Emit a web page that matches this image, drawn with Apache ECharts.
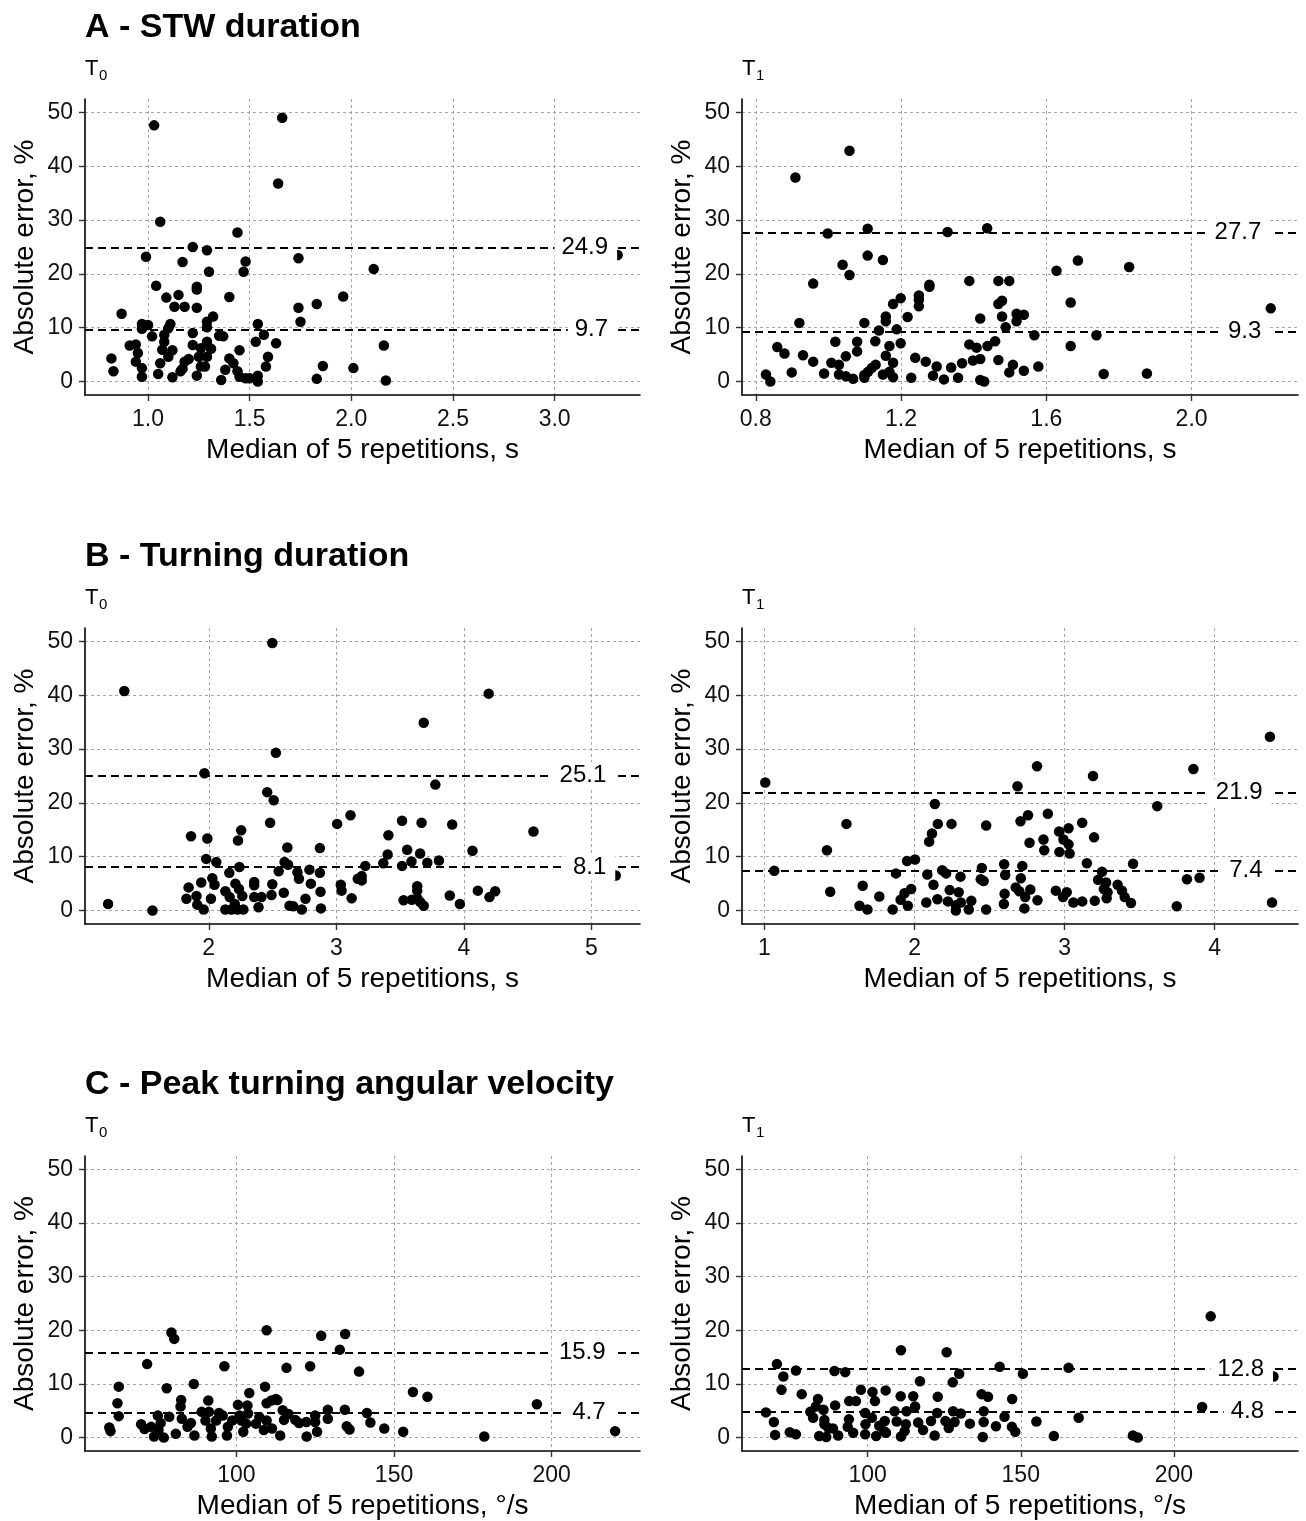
<!DOCTYPE html>
<html>
<head>
<meta charset="utf-8">
<title>Absolute error vs median of 5 repetitions</title>
<script src="https://cdn.jsdelivr.net/npm/echarts@6/dist/echarts.min.js"></script>
<style>
html, body { margin: 0; padding: 0; background: #fff; }
#chart { width: 1306px; height: 1521px; }
</style>
</head>
<body>
<div id="chart"></div>
<script>
// ---- data: [median of 5 repetitions, absolute error %] ----
const stwT0 = [[1.03,47.6],[1.66,49.0],[1.64,36.8],[1.06,29.7],[1.44,27.7],[1.22,25.0],[1.29,24.4],[0.99,23.2],[1.17,22.2],[1.48,22.3],[1.30,20.4],[1.47,20.4],[1.74,22.9],[2.11,20.9],[1.04,17.8],[1.24,17.6],[1.24,17.1],[1.09,15.6],[1.15,16.1],[1.13,13.9],[1.18,13.9],[1.24,13.7],[1.40,15.7],[1.96,15.8],[1.74,13.7],[1.83,14.4],[1.75,11.1],[0.87,12.6],[0.97,10.7],[1.00,10.5],[0.97,9.8],[1.11,10.7],[1.10,9.9],[1.29,11.1],[1.32,12.1],[1.29,10.1],[1.02,8.4],[1.08,8.7],[1.08,7.4],[1.22,9.0],[1.35,8.5],[1.37,8.4],[1.54,10.7],[1.57,8.7],[1.53,7.4],[1.63,7.1],[0.91,6.7],[0.94,6.9],[0.95,5.3],[1.07,5.9],[1.12,5.8],[1.22,6.8],[1.26,6.2],[1.29,7.4],[1.31,6.1],[1.10,4.6],[0.82,4.3],[0.94,3.7],[1.06,3.4],[1.18,3.7],[1.20,4.2],[1.25,4.6],[1.29,4.6],[1.40,4.3],[1.45,5.8],[1.42,3.4],[1.59,4.6],[1.58,2.8],[0.83,1.9],[0.97,2.5],[0.97,0.9],[1.05,1.4],[1.12,0.8],[1.16,1.9],[1.17,2.4],[1.24,1.1],[1.26,2.8],[1.28,2.8],[1.36,0.3],[1.38,2.2],[1.44,1.9],[1.45,0.9],[1.48,0.6],[1.50,0.6],[1.54,1.1],[1.54,0.0],[1.83,0.5],[1.86,2.9],[2.01,2.5],[2.16,6.7],[2.17,0.2],[3.31,23.5]];
const stwT1 = [[1.058,42.9],[0.909,37.9],[0.998,27.5],[1.108,28.4],[1.328,27.8],[1.437,28.5],[1.108,23.4],[1.150,22.6],[1.039,21.7],[1.058,19.8],[0.958,18.2],[1.628,20.6],[1.687,22.5],[1.828,21.3],[1.388,18.7],[1.468,18.7],[1.498,18.7],[1.278,18.0],[1.278,17.6],[1.249,16.0],[1.249,15.2],[1.249,14.0],[1.199,15.5],[1.178,14.4],[1.478,15.0],[1.468,14.4],[1.667,14.7],[2.218,13.6],[0.920,10.9],[1.099,10.9],[1.158,12.1],[1.158,11.2],[1.218,12.0],[1.418,11.7],[1.478,12.1],[1.518,12.6],[1.538,12.4],[1.518,11.2],[1.488,10.1],[1.139,9.5],[1.188,9.7],[1.567,8.6],[1.738,8.6],[0.859,6.4],[0.879,5.2],[1.019,7.4],[1.079,7.4],[1.079,5.6],[1.129,7.5],[1.168,6.6],[1.199,7.1],[1.388,6.9],[1.408,6.3],[1.438,6.6],[1.459,7.5],[1.667,6.6],[0.930,4.9],[0.958,3.7],[1.048,4.7],[1.158,4.8],[1.239,4.4],[1.008,3.5],[1.029,3.1],[1.178,3.5],[1.268,3.7],[1.298,2.8],[1.338,2.6],[1.368,3.4],[1.398,3.9],[1.418,4.2],[1.468,4.0],[1.508,3.1],[1.578,2.8],[0.828,1.3],[0.840,0.0],[0.899,1.7],[0.988,1.5],[1.029,1.3],[1.048,1.0],[1.068,0.5],[1.099,1.2],[1.109,1.8],[1.119,2.5],[1.130,3.1],[1.099,0.7],[1.150,1.3],[1.168,1.8],[1.178,0.8],[1.228,0.7],[1.288,1.1],[1.318,0.4],[1.357,0.7],[1.418,0.3],[1.429,0.0],[1.498,1.7],[1.538,2.0],[1.758,1.4],[1.877,1.5]];
const turnT0 = [[1.338,40.8],[2.498,49.7],[4.194,40.3],[3.685,34.9],[2.526,29.3],[1.966,25.5],[3.776,23.4],[2.458,22.0],[2.509,20.5],[2.481,16.3],[3.006,16.1],[3.111,17.7],[3.515,16.7],[3.668,16.3],[3.908,16.0],[4.545,14.7],[1.861,13.8],[1.989,13.4],[2.254,14.9],[2.229,13.0],[3.408,14.0],[2.616,11.7],[2.871,11.6],[3.555,11.3],[3.402,10.4],[3.657,10.6],[4.067,11.1],[1.980,9.6],[2.059,9.0],[2.594,9.0],[2.622,8.5],[2.240,8.1],[2.161,7.0],[2.548,7.3],[2.695,7.1],[2.789,7.6],[2.871,7.0],[2.707,5.9],[3.227,8.3],[3.368,8.8],[3.515,8.3],[3.589,9.1],[3.713,8.9],[3.804,9.3],[3.168,5.9],[3.199,6.4],[3.199,5.6],[1.941,5.2],[2.028,6.0],[2.045,4.8],[1.842,4.3],[2.209,5.0],[2.237,4.0],[2.356,5.3],[2.356,4.7],[2.498,4.9],[2.800,5.0],[3.035,4.8],[3.041,3.7],[2.130,3.6],[2.588,3.3],[2.876,3.5],[3.634,4.5],[3.634,3.7],[4.109,3.7],[4.245,3.6],[4.200,2.5],[3.889,2.8],[1.825,2.2],[1.904,2.7],[2.017,2.2],[2.164,2.5],[2.263,2.7],[2.356,2.5],[2.413,2.5],[2.492,2.9],[2.758,2.2],[3.120,2.3],[3.527,1.9],[3.592,2.0],[3.634,2.3],[3.657,1.6],[3.685,0.9],[3.968,1.2],[1.211,1.2],[1.559,0.0],[1.910,1.1],[1.960,0.2],[2.130,0.2],[2.178,0.2],[2.226,0.2],[2.271,0.2],[2.204,1.2],[2.390,0.6],[2.633,0.9],[2.662,0.8],[2.729,0.2],[2.879,0.4],[5.19,6.5]];
const turnT1 = [[4.368,32.3],[3.858,26.3],[2.816,26.8],[3.189,25.0],[2.686,23.1],[1.005,23.8],[3.617,19.4],[2.135,19.8],[1.546,16.1],[2.155,16.1],[2.246,16.1],[2.477,15.8],[2.756,17.7],[2.706,16.6],[2.888,18.0],[3.117,16.3],[3.026,15.3],[2.963,14.7],[2.116,14.3],[2.097,12.8],[2.859,13.2],[2.766,12.6],[2.864,11.2],[2.992,13.2],[3.026,12.3],[2.965,10.9],[3.033,10.6],[3.196,13.6],[1.416,11.2],[1.950,9.2],[2.003,9.5],[3.148,8.8],[3.456,8.7],[1.065,7.4],[1.876,6.9],[2.085,6.7],[2.184,7.5],[2.210,6.9],[2.306,6.3],[2.448,7.9],[2.441,5.8],[2.460,5.5],[2.597,8.6],[2.718,8.3],[2.604,6.6],[2.708,6.0],[3.249,7.2],[3.223,5.7],[3.276,5.2],[3.815,5.8],[3.899,6.1],[1.654,4.6],[2.126,4.8],[2.234,3.8],[2.294,3.4],[2.674,4.3],[2.698,3.6],[2.771,3.9],[2.600,3.1],[2.941,3.7],[3.014,3.4],[3.353,4.8],[3.382,3.7],[3.286,3.4],[3.261,4.0],[1.977,4.0],[1.933,3.2],[1.438,3.5],[1.765,2.6],[1.907,2.0],[1.955,0.9],[2.078,1.5],[2.152,2.1],[2.222,1.7],[2.275,1.0],[2.308,1.5],[2.378,1.8],[2.361,0.2],[2.275,0.0],[2.477,0.2],[2.595,1.2],[2.732,0.4],[2.737,2.5],[2.819,1.9],[2.989,2.5],[3.058,1.5],[3.117,1.7],[3.201,1.8],[3.280,2.3],[3.400,2.5],[3.442,1.4],[3.747,0.8],[4.382,1.5],[1.633,0.9],[1.686,0.2],[1.854,0.2]];
const pavT0 = [[59.7,1.9],[60.1,1.2],[62.7,9.5],[62.3,6.4],[62.7,4.0],[71.7,13.7],[79.4,19.6],[80.3,18.4],[77.9,9.2],[96.2,13.3],[86.5,10.0],[82.5,7.0],[82.3,5.8],[69.8,2.5],[70.9,1.6],[73.0,2.0],[73.9,0.2],[75.1,4.1],[76.0,2.7],[77.0,0.0],[78.7,3.9],[80.8,0.7],[82.7,3.5],[85.6,2.7],[86.7,0.4],[89.0,4.8],[91.1,6.9],[91.3,4.8],[91.9,1.7],[92.2,0.2],[94.5,4.6],[95.7,4.1],[97.0,0.4],[97.3,2.0],[100.5,6.1],[101.0,4.1],[102.2,1.1],[103.1,2.6],[103.7,4.5],[104.1,8.3],[103.5,6.0],[106.2,2.6],[108.7,1.4],[109.1,9.5],[109.6,20.0],[109.6,6.4],[109.6,3.2],[111.3,1.7],[113.0,7.0],[113.9,0.4],[114.7,5.1],[115.1,3.3],[115.9,13.0],[118.7,3.3],[119.9,2.7],[122.2,2.9],[122.3,0.2],[123.4,13.3],[125.0,4.1],[125.6,1.1],[126.9,19.0],[129.0,5.2],[129.0,3.5],[132.8,16.4],[134.5,19.3],[134.4,5.2],[135.0,2.1],[135.9,1.5],[138.9,12.3],[141.4,4.6],[142.5,2.8],[146.9,1.7],[152.9,1.1],[156.0,8.5],[160.6,7.6],[178.6,0.2],[195.3,6.2],[220.1,1.2],[111.1,6.9],[112.5,7.2],[90.2,3.2],[98.7,3.2],[107.3,3.8],[101.6,3.2],[116.5,4.4],[125.0,2.9],[93.6,3.2],[84.5,2.0],[75.3,1.4]];
const pavT1 = [[212.0,22.6],[110.9,16.3],[125.8,15.9],[70.4,13.7],[76.6,12.5],[89.2,12.4],[92.7,12.2],[72.5,11.4],[143.1,13.2],[165.6,13.0],[150.7,11.9],[129.9,11.9],[127.8,10.3],[117.1,10.5],[232.5,11.4],[71.9,8.9],[78.5,8.1],[83.8,7.2],[97.8,8.9],[101.6,8.5],[105.9,8.8],[110.8,7.7],[114.9,7.7],[122.9,7.6],[137.2,8.1],[139.3,7.6],[147.2,7.2],[94.0,6.8],[96.2,6.8],[89.4,6.0],[83.1,5.8],[102.4,6.8],[115.5,5.8],[66.8,4.7],[81.3,4.8],[85.6,5.2],[99.2,4.6],[108.8,4.9],[112.7,4.9],[122.7,4.6],[127.9,4.9],[130.4,4.5],[137.9,4.9],[209.2,5.7],[82.2,3.7],[85.9,3.3],[93.9,3.4],[101.4,3.7],[105.6,3.1],[144.7,3.9],[168.9,3.7],[69.4,2.9],[85.9,2.5],[88.7,1.7],[93.5,2.0],[99.3,2.5],[103.8,2.2],[105.4,1.2],[109.5,3.0],[112.5,2.5],[116.5,2.8],[120.7,3.1],[125.4,3.1],[126.5,1.8],[128.4,2.9],[133.4,2.6],[137.9,2.9],[141.9,2.1],[155.1,3.0],[147.1,2.0],[148.2,1.1],[69.8,0.5],[74.6,1.0],[76.6,0.6],[84.2,0.3],[86.5,0.1],[90.4,0.4],[95.3,0.9],[99.2,0.6],[102.8,0.3],[106.0,0.9],[110.9,0.2],[112.1,1.2],[118.1,1.4],[121.9,0.4],[137.6,0.1],[160.8,0.3],[186.6,0.4],[188.2,0.0],[87.2,1.8]];

// dashed reference lines (upper, lower)
const stwT0Lines = [24.9, 9.7];
const stwT1Lines = [27.7, 9.3];
const turnT0Lines = [25.1, 8.1];
const turnT1Lines = [21.9, 7.4];
const pavT0Lines = [15.9, 4.7];
const pavT1Lines = [12.8, 4.8];

// tick labels
const yTicks = [0, 10, 20, 30, 40, 50];
const stwT0Ticks = [1.0, 1.5, 2.0, 2.5, 3.0];
const stwT1Ticks = [0.8, 1.2, 1.6, 2.0];
const turnT0Ticks = [2, 3, 4, 5];
const turnT1Ticks = [1, 2, 3, 4];
const pavT0Ticks = [100, 150, 200];
const pavT1Ticks = [100, 150, 200];

const rowTitles = ['A - STW duration', 'B - Turning duration', 'C - Peak turning angular velocity'];

// ---- layout ----
const FONT = '"Liberation Sans", Arial, Helvetica, sans-serif';
const colLeft = [85, 742];
const colWidth = [555, 556];
const rowTop = [99, 628, 1156];
const rowH = 296;

const panels = [
  { data: stwT0, lines: stwT0Lines, ticks: stwT0Ticks, min: 0.69, max: 3.42, labelX: 3.31, unit: 's', dec: 1 },
  { data: stwT1, lines: stwT1Lines, ticks: stwT1Ticks, min: 0.762, max: 2.293, labelX: 2.218, unit: 's', dec: 1 },
  { data: turnT0, lines: turnT0Lines, ticks: turnT0Ticks, min: 1.03, max: 5.38, labelX: 5.19, unit: 's', dec: 0 },
  { data: turnT1, lines: turnT1Lines, ticks: turnT1Ticks, min: 0.85, max: 4.555, labelX: 4.382, unit: 's', dec: 0 },
  { data: pavT0, lines: pavT0Lines, ticks: pavT0Ticks, min: 52, max: 228, labelX: 220.1, unit: '°/s', dec: 0 },
  { data: pavT1, lines: pavT1Lines, ticks: pavT1Ticks, min: 59, max: 240.5, labelX: 232.5, unit: '°/s', dec: 0 }
];

const grids = [], xAxes = [], yAxes = [], series = [], titles = [], graphics = [];

panels.forEach((p, i) => {
  const r = Math.floor(i / 2), c = i % 2;
  grids.push({ left: colLeft[c], top: rowTop[r], width: colWidth[c], height: rowH, containLabel: false });

  xAxes.push({
    gridIndex: i, type: 'value', min: p.min, max: p.max,
    name: 'Median of 5 repetitions, ' + p.unit, nameLocation: 'middle', nameGap: 41,
    nameTextStyle: { fontSize: 28, color: '#000', fontFamily: FONT },
    axisLine: { show: true, onZero: false, lineStyle: { color: '#000', width: 1.6 } },
    axisTick: { show: true, length: 6, customValues: p.ticks, lineStyle: { color: '#333', width: 1.4 } },
    axisLabel: {
      customValues: p.ticks, fontSize: 23, color: '#111', fontFamily: FONT, margin: 13,
      formatter: v => v.toFixed(p.dec)
    },
    splitLine: { show: true, lineStyle: { color: '#a6a6a6', type: [3, 3], width: 1 } }
  });

  yAxes.push({
    gridIndex: i, type: 'value', min: -2.5, max: 52.5,
    name: 'Absolute error, %', nameLocation: 'middle', nameGap: 46,
    nameTextStyle: { fontSize: 28, color: '#000', fontFamily: FONT },
    axisLine: { show: true, onZero: false, lineStyle: { color: '#000', width: 1.6 } },
    axisTick: { show: true, length: 6, customValues: yTicks, lineStyle: { color: '#333', width: 1.4 } },
    axisLabel: { customValues: yTicks, fontSize: 23, color: '#111', fontFamily: FONT, margin: 12 },
    splitLine: { show: true, lineStyle: { color: '#a6a6a6', type: [3, 3], width: 1 } }
  });

  series.push({
    type: 'scatter', xAxisIndex: i, yAxisIndex: i,
    data: p.data, symbolSize: 10.5,
    itemStyle: { color: '#000', opacity: 1 },
    z: 3,
    markLine: {
      silent: true, symbol: 'none', animation: false,
      label: { show: false },
      lineStyle: { color: '#000', type: [8, 5], width: 1.8 },
      data: p.lines.map(v => ({ yAxis: v }))
    }
  });

  // value labels sitting on the dashed lines
  series.push({
    type: 'scatter', xAxisIndex: i, yAxisIndex: i,
    data: p.lines.map(v => [p.labelX, v]),
    symbolSize: 1, itemStyle: { color: '#fff', opacity: 1 }, z: 10, silent: true,
    label: {
      show: true, position: 'left', distance: 0, offset: [0, 3],
      formatter: d => d.value[1].toFixed(1),
      fontSize: 24, color: '#000', fontFamily: FONT,
      backgroundColor: '#fff', padding: [2, 9, 1, 7]
    },
    labelLayout: { hideOverlap: false }
  });

  // T0 / T1 subtitles
  const sx = colLeft[c], sy = rowTop[r] - 30;
  graphics.push({ type: 'text', x: sx, y: sy, style: { text: 'T', font: '22px ' + FONT, fill: '#000', verticalAlign: 'middle' } });
  graphics.push({ type: 'text', x: sx + 14, y: sy + 7, style: { text: String(c), font: '15px ' + FONT, fill: '#000', verticalAlign: 'middle' } });
});

rowTitles.forEach((t, r) => {
  titles.push({
    text: t, left: 85, top: rowTop[r] - 88, padding: 0,
    textStyle: { fontSize: 34, fontWeight: 'bold', color: '#000', fontFamily: FONT }
  });
});

const chart = echarts.init(document.getElementById('chart'), null, { renderer: 'canvas' });
chart.setOption({
  animation: false,
  backgroundColor: '#fff',
  title: titles,
  grid: grids,
  xAxis: xAxes,
  yAxis: yAxes,
  series: series,
  graphic: graphics
});
</script>
</body>
</html>
